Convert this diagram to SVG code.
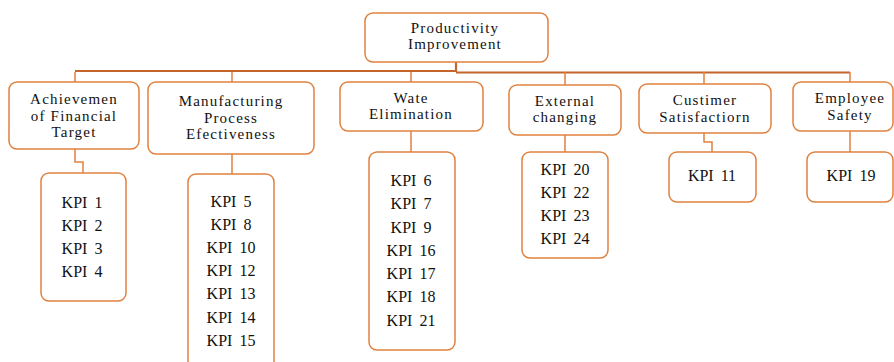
<svg xmlns="http://www.w3.org/2000/svg" width="894" height="362" viewBox="0 0 894 362">
<style>
.box{fill:#fff;stroke:#E0813F;stroke-width:1.5}
.ln{fill:none;stroke:#E0813F;stroke-width:1.5}
.main{fill:none;stroke:#C4652C;stroke-width:2.2}
text{font-size:15px;fill:#111;text-anchor:middle;letter-spacing:1.2px}
.k{font-size:16px;letter-spacing:0;word-spacing:3px}
</style>
<rect width="894" height="362" fill="#fff"/>
<g id="connectors">
<path class="main" d="M456,62V72 M75,71H456 M456,72.5H850"/>
<path class="ln" d="M75,72V82 M232,72V82 M411,72V82 M565,72V85 M704,72V84 M850,72V82"/>
<path class="ln" d="M75,149V162H83V173"/>
<path class="ln" d="M232,154V174"/>
<path class="ln" d="M411,131V152"/>
<path class="ln" d="M565,135V152"/>
<path class="ln" d="M704,133V142H712V152"/>
<path class="ln" d="M850,131V152"/>
</g>
<g font-family="Liberation Serif, serif">
<g id="n0"><rect class="box" x="365" y="13" width="183" height="49" rx="8"/><text x="455" y="33">Productivity</text><text x="455" y="49">Improvement</text></g>
<g id="n1"><rect class="box" x="9" y="82" width="130" height="67" rx="8"/><text x="74" y="104">Achievemen</text><text x="74" y="121">of Financial</text><text x="74" y="137">Target</text></g>
<g id="n2"><rect class="box" x="148" y="82" width="166" height="72" rx="8"/><text x="231" y="106">Manufacturing</text><text x="231" y="123">Process</text><text x="231" y="139">Efectiveness</text></g>
<g id="n3"><rect class="box" x="340" y="82" width="143" height="49" rx="8"/><text x="411" y="103">Wate</text><text x="411" y="119">Elimination</text></g>
<g id="n4"><rect class="box" x="509" y="85" width="112" height="50" rx="8"/><text x="565" y="106">External</text><text x="565" y="122">changing</text></g>
<g id="n5"><rect class="box" x="639" y="84" width="132" height="49" rx="8"/><text x="705" y="105">Custimer</text><text x="705" y="122">Satisfactiorn</text></g>
<g id="n6"><rect class="box" x="793" y="82" width="100" height="49" rx="8"/><text x="850" y="103">Employee</text><text x="850" y="120">Safety</text></g>
<g id="k1"><rect class="box" x="41" y="173" width="85" height="128" rx="8"/><text class="k" x="82" y="208">KPI 1</text><text class="k" x="82" y="231">KPI 2</text><text class="k" x="82" y="254">KPI 3</text><text class="k" x="82" y="277">KPI 4</text></g>
<g id="k2"><rect class="box" x="188" y="174" width="86" height="200" rx="8"/><text class="k" x="231" y="207">KPI 5</text><text class="k" x="231" y="230">KPI 8</text><text class="k" x="231" y="253">KPI 10</text><text class="k" x="231" y="276">KPI 12</text><text class="k" x="231" y="299">KPI 13</text><text class="k" x="231" y="323">KPI 14</text><text class="k" x="231" y="346">KPI 15</text></g>
<g id="k3"><rect class="box" x="369" y="152" width="86" height="198" rx="8"/><text class="k" x="411" y="186">KPI 6</text><text class="k" x="411" y="209">KPI 7</text><text class="k" x="411" y="233">KPI 9</text><text class="k" x="411" y="256">KPI 16</text><text class="k" x="411" y="279">KPI 17</text><text class="k" x="411" y="302">KPI 18</text><text class="k" x="411" y="326">KPI 21</text></g>
<g id="k4"><rect class="box" x="522" y="152" width="86" height="106" rx="8"/><text class="k" x="565" y="175">KPI 20</text><text class="k" x="565" y="198">KPI 22</text><text class="k" x="565" y="221">KPI 23</text><text class="k" x="565" y="244">KPI 24</text></g>
<g id="k5"><rect class="box" x="669" y="152" width="87" height="50" rx="8"/><text class="k" x="712" y="181">KPI 11</text></g>
<g id="k6"><rect class="box" x="807" y="152" width="86" height="50" rx="8"/><text class="k" x="851" y="181">KPI 19</text></g>
</g>
</svg>
